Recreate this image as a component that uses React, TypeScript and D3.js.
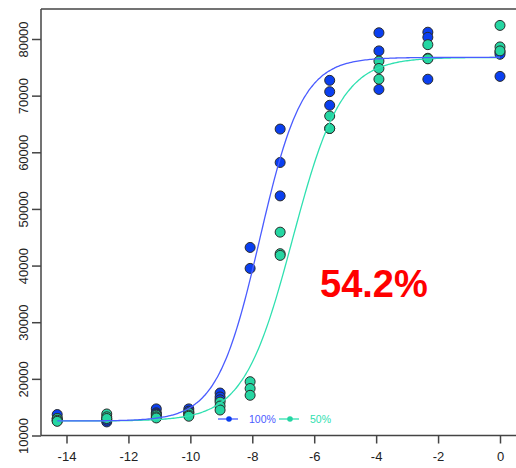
import { useEffect, useRef } from "react"
import * as d3 from "d3"

// log concentration levels
const logConc = [-14.3, -12.7, -11.1, -10.05, -9.04, -8.07, -7.1, -5.5, -3.91, -2.33, 0]

// replicate responses, one row per concentration
const ref100 = [
  [13700, 13000, 12600],
  [12900, 12400, 12700],
  [14700, 14000, 13800],
  [14700, 14300, 14000],
  [17500, 16800, 16300],
  [43200, 39500],
  [64100, 58200, 52300],
  [72700, 70700, 68300],
  [81100, 77900, 71100],
  [81200, 80300, 72900],
  [77700, 77300, 73400],
]
const test50 = [
  [13000, 12700, 12500],
  [13800, 13300, 13000],
  [13600, 13300, 13100],
  [14000, 13600, 13400],
  [15900, 15200, 14500],
  [19500, 18300, 17100],
  [45900, 42100, 41800],
  [66400, 64200, 64200],
  [76100, 74800, 72900],
  [79000, 76600, 76500],
  [82400, 78600, 77900],
]

// 4PL fit: bottom, top, log EC50, hill slope
const fit100 = { bottom: 12560, top: 76750, ec50: -7.76, hill: 0.63 }
const fit50 = { bottom: 12560, top: 76750, ec50: -6.7, hill: 0.55 }

const xTicks = [-14, -12, -10, -8, -6, -4, -2, 0]
const yTicks = [10000, 20000, 30000, 40000, 50000, 60000, 70000, 80000]
const legendLabels = ["100%", "50%"]
const potencyLabel = "54.2%"

const blueLine = "#4a5cff"
const blueDot = "#0a3ff0"
const greenLine = "#2fe0b0"
const greenDot = "#25d6a2"

export default function App() {
  const svgRef = useRef<SVGSVGElement>(null)

  useEffect(() => {
    if (!svgRef.current) return
    const svg = d3.select(svgRef.current)
    svg.selectAll("*").remove()

    const x = d3.scaleLinear().domain([-14, 0]).range([66.5, 500])
    const y = d3.scaleLinear().domain([10000, 80000]).range([435.5, 39])
    const font = "Liberation Sans, Arial, sans-serif"

    // frame: top line + axes
    svg.append("line")
      .attr("x1", 41).attr("x2", 516).attr("y1", 9).attr("y2", 9)
      .attr("stroke", "#444").attr("stroke-width", 1.5)
    svg.append("line")
      .attr("x1", 41).attr("x2", 41).attr("y1", 9).attr("y2", 435.5)
      .attr("stroke", "#444").attr("stroke-width", 1.5)
    svg.append("line")
      .attr("x1", 41).attr("x2", 516).attr("y1", 435.5).attr("y2", 435.5)
      .attr("stroke", "#444").attr("stroke-width", 1.5)

    const xAxis = svg.append("g")
      .attr("transform", "translate(0,435.5)")
      .call(d3.axisBottom(x).tickValues(xTicks).tickSize(8).tickPadding(8).tickFormat(d3.format("d")))
    xAxis.select(".domain").remove()
    xAxis.selectAll("line").attr("stroke", "#444").attr("stroke-width", 1.5)
    xAxis.selectAll("text")
      .attr("fill", "#222").style("font-family", font).style("font-size", "13px")
      .text((d: any) => (d < 0 ? "-" + Math.abs(d) : String(d)))

    const yAxis = svg.append("g")
      .attr("transform", "translate(41,0)")
      .call(d3.axisLeft(y).tickValues(yTicks).tickSize(9).tickFormat(d3.format("d")))
    yAxis.select(".domain").remove()
    yAxis.selectAll("line").attr("stroke", "#444").attr("stroke-width", 1.5)
    yAxis.selectAll("text")
      .attr("fill", "#222").style("font-family", font).style("font-size", "13px")
      .attr("x", null).attr("dy", null)
      .attr("text-anchor", "middle")
      .attr("transform", "translate(-18,0) rotate(-90)")
      .attr("dy", "0.35em")

    // points
    const pts = (rows: number[][]) =>
      rows.flatMap((r, i) => r.map((v) => ({ lx: logConc[i], v })))

    svg.append("g").selectAll("circle")
      .data(pts(ref100))
      .join("circle")
      .attr("cx", (d) => x(d.lx)).attr("cy", (d) => y(d.v)).attr("r", 5)
      .attr("fill", blueDot).attr("stroke", "#2a2a2a").attr("stroke-width", 1)
    svg.append("g").selectAll("circle")
      .data(pts(test50))
      .join("circle")
      .attr("cx", (d) => x(d.lx)).attr("cy", (d) => y(d.v)).attr("r", 5)
      .attr("fill", greenDot).attr("stroke", "#2a2a2a").attr("stroke-width", 1)

    // fitted curves
    const grid = d3.range(-14.3, 0.001, 0.05)
    const curve = (f: typeof fit100) =>
      grid.map((lx) => [lx, f.bottom + (f.top - f.bottom) / (1 + Math.pow(10, (f.ec50 - lx) * f.hill))])
    const line = d3.line<number[]>().x((d) => x(d[0])).y((d) => y(d[1])).curve(d3.curveMonotoneX)
    svg.append("path").attr("d", line(curve(fit50))).attr("fill", "none")
      .attr("stroke", greenLine).attr("stroke-width", 1.3)
    svg.append("path").attr("d", line(curve(fit100))).attr("fill", "none")
      .attr("stroke", blueLine).attr("stroke-width", 1.3)

    // legend
    const legend = svg.append("g").attr("transform", "translate(218,419)")
    const items = [
      { label: legendLabels[0], line: blueLine, dot: blueDot, x: 0 },
      { label: legendLabels[1], line: greenLine, dot: greenDot, x: 61 },
    ]
    items.forEach((it) => {
      const g = legend.append("g").attr("transform", `translate(${it.x},0)`)
      g.append("line").attr("x1", 0).attr("x2", 20).attr("stroke", it.line).attr("stroke-width", 1.3)
      g.append("circle").attr("cx", 11).attr("r", 2.8).attr("fill", it.dot)
      g.append("text").attr("x", 31).attr("dy", "0.35em")
        .attr("fill", it.line).style("font-family", font).style("font-size", "10.5px")
        .text(it.label)
    })

    // relative potency label
    svg.append("text")
      .attr("x", 320).attr("y", 296.5)
      .attr("fill", "#ff0000").style("font-family", font)
      .style("font-size", "38px").style("font-weight", "bold")
      .text(potencyLabel)
  }, [])

  return (
    <svg
      ref={svgRef}
      width={516}
      height={468}
      style={{ position: "absolute", left: 0, top: 0, background: "#fff" }}
    ></svg>
  )
}
